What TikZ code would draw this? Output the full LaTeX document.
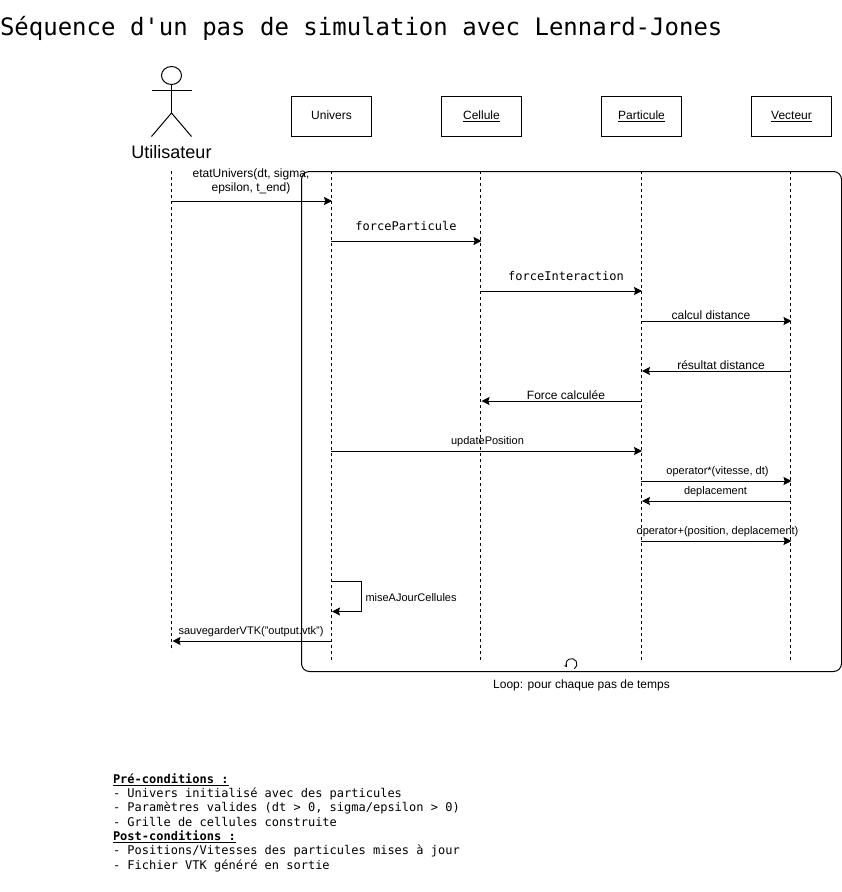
\documentclass[tikz,border=0pt]{standalone}
\usepackage{fontspec}
\setmainfont{Liberation Sans}
\setmonofont{DejaVu Sans Mono}
\usetikzlibrary{arrows.meta,positioning,shapes.geometric}
\tikzset{
  objet/.style={draw,minimum width=80pt,minimum height=40pt,inner sep=0pt,text height=8.5pt,text depth=2.5pt,font=\fontsize{12}{14}\selectfont},
  vie/.style={dashed,dash pattern=on 3pt off 3pt},
  msg/.style={-{Stealth[length=8pt,width=8pt,inset=1.2pt]},shorten >=-1pt},
  retour/.style={-{Stealth[length=8pt,width=8pt,inset=1.2pt]},shorten >=1pt},
  lab/.style={inner sep=0pt,align=center,font=\fontsize{12}{14}\selectfont},
  petit/.style={inner sep=0pt,align=center,font=\fontsize{11}{14}\selectfont},
  code/.style={inner sep=0pt,font=\ttfamily\fontsize{12}{14}\selectfont}
}
\begin{document}
\begin{tikzpicture}[x=1pt,y=-1pt,line width=1pt,line cap=butt]
\useasboundingbox (0,0) rectangle (842,892);
\node[inner sep=0pt,anchor=west,font=\ttfamily\fontsize{24}{28}\selectfont] (titre) at (-0.5,28) {Séquence d'un pas de simulation avec Lennard-Jones};
% objets
\node[objet] (univers) at (331.5,116.5) {Univers};
\node[objet] (cellule) at (481.5,116.5) {\underline{Cellule}};
\node[objet] (particule) at (641.5,116.5) {\underline{Particule}};
\node[objet] (vecteur) at (791.5,116.5) {\underline{Vecteur}};
% acteur
\node[draw,ellipse,minimum width=20pt,minimum height=18pt,inner sep=0pt] (tete) at (171.5,75.5) {};
\coordinate (cou) at (171.5,113);
\draw (tete.south)--(cou);
\draw (151.5,90)--(191.5,90);
\draw (151.5,136.5)--(cou)--(191.5,136.5);
\node[inner sep=0pt,font=\fontsize{18}{20}\selectfont] (utilisateur) at (171.5,152) {Utilisateur};
% lignes de vie
\foreach \n/\x/\yb in {U/171.5/651,V/331/661,C/480.5/661,P/641/661,W/790.5/661}{
  \coordinate (h\n) at (\x,171);
  \coordinate (b\n) at (\x,\yb);
  \draw[vie](h\n)--(b\n);
}
% boucle
\node[draw,rounded corners=8pt,minimum width=540pt,minimum height=500pt,inner sep=0pt] (boucle) at (571.5,421.5) {};
\node[lab] (titreboucle) at (581.5,685) {Loop: pour chaque pas de temps};
\draw[-{Stealth[length=3pt,width=3.5pt]},line width=0.9pt] (574.25,668.8) arc[start angle=-60,end angle=215,radius=5.5pt] coordinate (tour);
% messages
\foreach \a/\b/\y in {U/V/201,V/C/241,C/P/291,P/W/321,V/P/451,P/W/481,P/W/541}{
  \draw[msg](h\a |- 0,\y)--(h\b |- 0,\y);
}
\foreach \a/\b/\y in {W/P/371,P/C/401,W/P/501,V/U/641}{
  \draw[retour](h\a |- 0,\y)--(h\b |- 0,\y);
}
\draw[retour](hV |- 0,581.5)-|(361.5,611.5)--(hV |- 0,611.5);
\node[lab] (etat) at (251,181.5) {etatUnivers(dt, sigma,\\epsilon, t\_end)};
\node[code] (force) at (406,226) {forceParticule};
\node[code] (interaction) at (566,276) {forceInteraction};
\node[lab] (calcul) at (711,315) {calcul distance};
\node[lab] (resultat) at (721,365) {résultat distance};
\node[lab] (calculee) at (566,395) {Force calculée};
\node[petit] (update) at (487.5,442) {updatePosition};
\node[petit] (mult) at (717.5,472) {operator*(vitesse, dt)};
\node[petit] (depl) at (715.5,492) {deplacement};
\node[petit] (plus) at (717.5,532) {operator+(position, deplacement)};
\node[petit,anchor=west] (maj) at (365,597.5) {miseAJourCellules};
\node[petit] (vtk) at (251,632) {sauvegarderVTK("output.vtk")};
% conditions
\node[code,anchor=north west,align=left,font=\ttfamily\fontsize{12}{14.33}\selectfont] (conditions) at (112.5,773) {%
\textbf{\underline{Pré-conditions :}}\\
- Univers initialisé avec des particules\\
- Paramètres valides (dt > 0, sigma/epsilon > 0)\\
- Grille de cellules construite\\
\textbf{\underline{Post-conditions :}}\\
- Positions/Vitesses des particules mises à jour\\
- Fichier VTK généré en sortie};
\end{tikzpicture}
\end{document}
